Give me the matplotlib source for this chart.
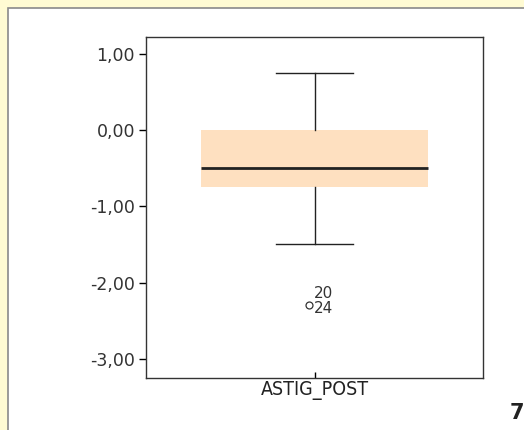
import numpy as np
import matplotlib.pyplot as plt
from matplotlib.patches import Rectangle

# box statistics
label = 'ASTIG_POST'
q1, med, q3 = -0.75, -0.50, 0.00
whislo, whishi = -1.50, 0.75
outlier_vals = [-2.25]
outlier_ids = ['20', '24']
yticks = [1.0, 0.0, -1.0, -2.0, -3.0]
yticklabels = ['1,00', '0,00', '-1,00', '-2,00', '-3,00']

fig = plt.figure(figsize=(5.24, 4.30), dpi=100)
fig.patch.set_facecolor('#fffbd3')

# white panel with gray frame
fig.patches.append(Rectangle((8 / 524, -0.1), 1.2, (430 - 8) / 430 + 0.1,
                             transform=fig.transFigure, facecolor='white',
                             edgecolor='#8a8a8a', linewidth=1.2, zorder=-10))

ax = fig.add_axes([146 / 524, 1 - 378 / 430, (483 - 146) / 524, (378 - 37) / 430])
ax.set_zorder(5)
stats = [dict(med=med, q1=q1, q3=q3, whislo=whislo, whishi=whishi,
              fliers=[], label=label)]
ax.bxp(stats, positions=[0], widths=0.676, patch_artist=True, showfliers=False,
       boxprops=dict(facecolor='#fee0c0', edgecolor='#fee0c0', linewidth=0),
       medianprops=dict(color='#222222', linewidth=2),
       whiskerprops=dict(color='#222222', linewidth=1),
       capprops=dict(color='#222222', linewidth=1),
       capwidths=0.226)

for v in outlier_vals:
    ax.plot(-0.015, v - 0.04, marker='o', markersize=5, markerfacecolor='none',
            markeredgecolor='#333333', markeredgewidth=0.9, linestyle='none')
    ax.text(-0.003, v + 0.01, outlier_ids[0], fontsize=11, color='#333333',
            ha='left', va='bottom')
    ax.text(-0.003, v + 0.01, outlier_ids[1], fontsize=11, color='#333333',
            ha='left', va='top')

ax.set_xlim(-0.5, 0.5)
ax.set_ylim(-3.25, 1.22)
ax.set_yticks(yticks)
ax.set_yticklabels(yticklabels, fontsize=12.5, color='#333333')
ax.set_xticks([0])
ax.set_xticklabels([label], fontsize=14, color='#222222', fontstretch='condensed')
ax.tick_params(axis='y', length=5, width=1, pad=3)
ax.tick_params(axis='x', length=4, width=1, direction='in', pad=2)
for s in ax.spines.values():
    s.set_color('#333333')
    s.set_linewidth(1)

fig.text(510 / 524, 1 - 413 / 430, '7', fontsize=15, fontweight='bold',
         color='#222222', ha='left', va='center')

fig.savefig('out.png', dpi=100, facecolor=fig.get_facecolor())
